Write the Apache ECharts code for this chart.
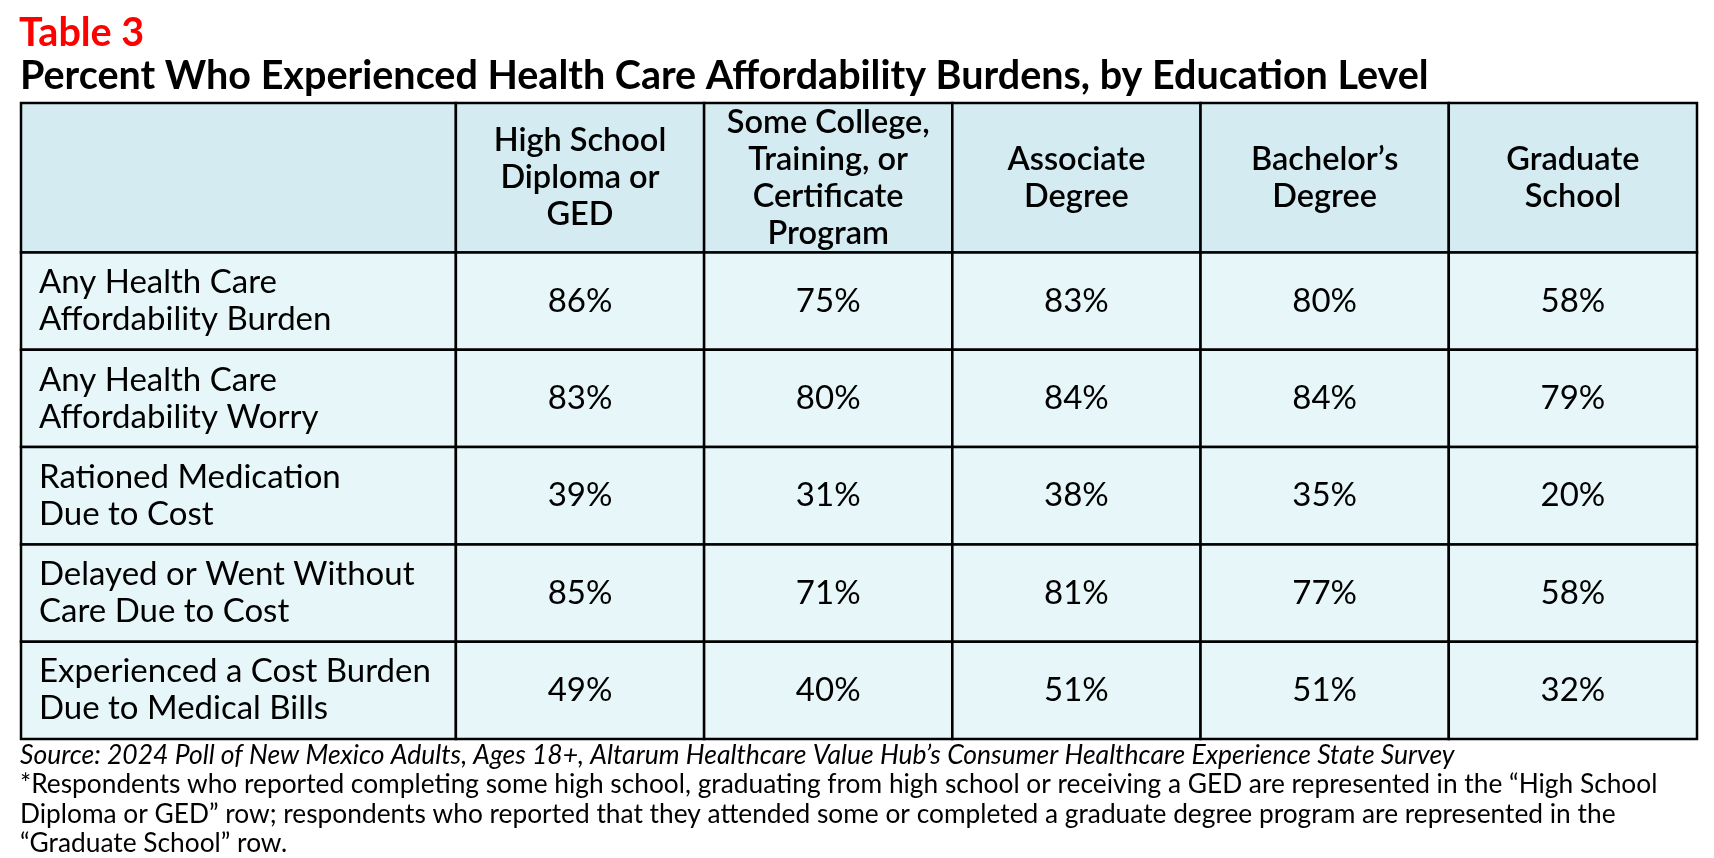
<!DOCTYPE html>
<html>
<head>
<meta charset="utf-8">
<script src="https://cdn.jsdelivr.net/npm/echarts@6/dist/echarts.min.js"></script>
<style>
html,body{margin:0;padding:0;background:#fff;}
#chart{width:1714px;height:858px;}
</style>
</head>
<body>
<div id="chart"></div>
<script>
// ---- data ----
const tableLabel = 'Table 3';
const chartTitle = 'Percent Who Experienced Health Care Affordability Burdens, by Education Level';
const columns = [
  'High School\nDiploma or\nGED',
  'Some College,\nTraining, or\nCertificate\nProgram',
  'Associate\nDegree',
  'Bachelor\u2019s\nDegree',
  'Graduate\nSchool'
];
const rowLabels = [
  'Any Health Care\nAffordability Burden',
  'Any Health Care\nAffordability Worry',
  'Rationed Medication\nDue to Cost',
  'Delayed or Went Without\nCare Due to Cost',
  'Experienced a Cost Burden\nDue to Medical Bills'
];
const highSchool = [86, 83, 39, 85, 49];
const someCollege = [75, 80, 31, 71, 40];
const associate = [83, 84, 38, 81, 51];
const bachelors = [80, 84, 35, 77, 51];
const graduate = [58, 79, 20, 58, 32];
const sourceNote = 'Source: 2024 Poll of New Mexico Adults, Ages 18+, Altarum Healthcare Value Hub\u2019s Consumer Healthcare Experience State Survey';
const footNote = '*Respondents who reported completing some high school, graduating from high school or receiving a GED are represented in the \u201cHigh School\nDiploma or GED\u201d row; respondents who reported that they attended some or completed a graduate degree program are represented in the\n\u201cGraduate School\u201d row.';

// ---- build cells ----
const valueCols = [highSchool, someCollege, associate, bachelors, graduate];
const LABEL_UNITS = 1.752;   // width of label column relative to a data column
const HEAD_UNITS = 1.537;    // height of header row relative to a body row
const cells = [];
cells.push({c: -1, r: -1, text: '', kind: 'corner'});
columns.forEach((t, c) => cells.push({c, r: -1, text: t, kind: 'head'}));
rowLabels.forEach((t, r) => {
  cells.push({c: -1, r, text: t, kind: 'label'});
  valueCols.forEach((col, c) => cells.push({c, r, text: col[r] + '%', kind: 'value'}));
});

const FONT = 'Lato, "Open Sans", sans-serif';
const chart = echarts.init(document.getElementById('chart'), null, {renderer: 'canvas'});
chart.setOption({
  backgroundColor: '#ffffff',
  animation: false,
  title: [
    {text: tableLabel, left: 19, top: 13, padding: 0,
     textStyle: {color: '#ff0000', fontSize: 39.5, fontWeight: 'bold', fontFamily: FONT}},
    {text: chartTitle, left: 20, top: 56, padding: 0,
     textStyle: {color: '#000', fontSize: 39.5, fontWeight: 'bold', fontFamily: FONT}},
    {text: sourceNote, left: 20, top: 742, padding: 0,
     textStyle: {color: '#000', fontSize: 26.5, fontStyle: 'italic', fontWeight: 'normal', fontFamily: FONT}},
    {text: footNote, left: 20, top: 770, padding: 0,
     textStyle: {color: '#000', fontSize: 26.3, fontWeight: 'normal', fontFamily: FONT, lineHeight: 29.5}}
  ],
  grid: {left: 21, top: 103, width: 1676, height: 636},
  xAxis: {type: 'value', min: -LABEL_UNITS, max: columns.length, show: false},
  yAxis: {type: 'value', inverse: true, min: -HEAD_UNITS, max: rowLabels.length, show: false},
  series: [{
    type: 'custom',
    coordinateSystem: 'cartesian2d',
    data: cells.map(d => [d.c, d.r]),
    encode: {x: 0, y: 1},
    renderItem: function (params, api) {
      const d = cells[params.dataIndex];
      const x0 = d.c < 0 ? -LABEL_UNITS : d.c;
      const x1 = d.c < 0 ? 0 : d.c + 1;
      const y0 = d.r < 0 ? -HEAD_UNITS : d.r;
      const y1 = d.r < 0 ? 0 : d.r + 1;
      const p0 = api.coord([x0, y0]);
      const p1 = api.coord([x1, y1]);
      const w = p1[0] - p0[0], h = p1[1] - p0[1];
      const fill = d.r < 0 ? '#d4ecf1' : '#e7f6f8';
      const children = [{
        type: 'rect',
        shape: {x: p0[0], y: p0[1], width: w, height: h},
        style: {fill: fill, stroke: '#000', lineWidth: 2.5}
      }];
      if (d.text) {
        const isLabel = d.kind === 'label';
        const isHead = d.kind === 'head';
        children.push({
          type: 'text',
          style: {
            text: d.text,
            x: isLabel ? p0[0] + 18 : p0[0] + w / 2,
            y: p0[1] + h / 2,
            align: isLabel ? 'left' : 'center',
            verticalAlign: 'middle',
            fontSize: isHead ? 32.5 : 33,
            fontWeight: isHead ? 600 : 'normal',
            fontFamily: FONT,
            lineHeight: 37,
            fill: '#000'
          }
        });
      }
      return {type: 'group', children: children};
    }
  }]
});
</script>
</body>
</html>
